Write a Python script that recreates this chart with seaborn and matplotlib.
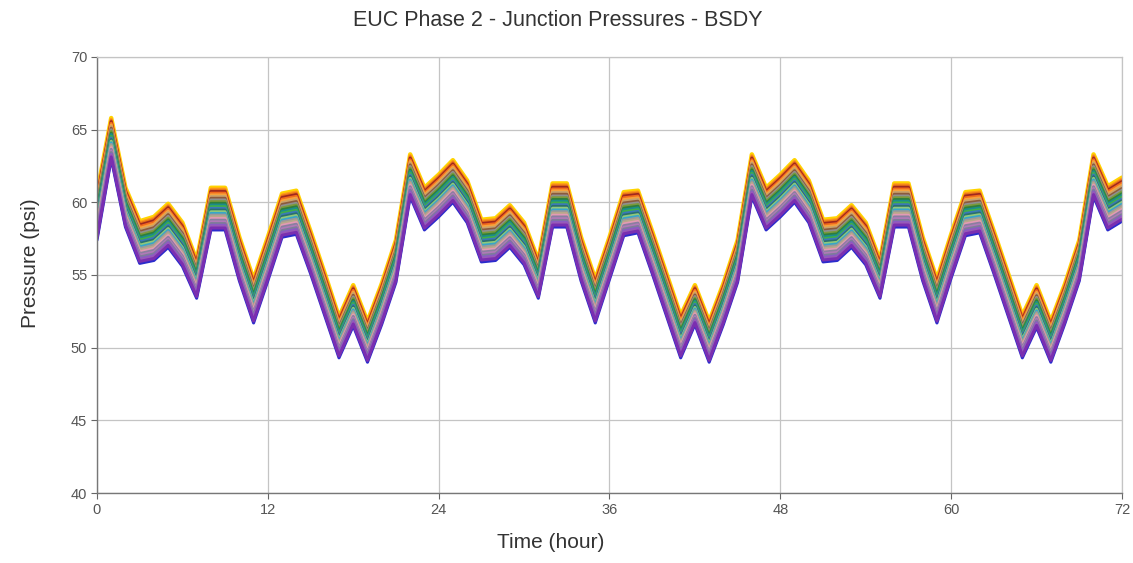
import numpy as np
import pandas as pd
import matplotlib
matplotlib.use("Agg")
import matplotlib.pyplot as plt
import seaborn as sns

# hourly time steps of the extended period run
hours = list(range(0, 73))

# highest-pressure junction (top edge of the band), psi
p_max = [60.6, 65.8, 61.0, 58.7, 59.0, 59.9, 58.6, 56.0, 61.0, 61.0,
         57.6, 54.7, 57.6, 60.6, 60.8, 58.0, 55.1, 52.1, 54.3, 51.8,
         54.4, 57.4, 63.3, 61.0, 61.9, 62.9, 61.5, 58.8, 58.9, 59.8,
         58.6, 56.0, 61.3, 61.3, 57.6, 54.7, 57.6, 60.7, 60.8, 58.0,
         55.1, 52.2, 54.3, 51.8, 54.4, 57.4, 63.3, 61.0, 61.9, 62.9,
         61.5, 58.8, 58.9, 59.8, 58.6, 56.0, 61.3, 61.3, 57.6, 54.7,
         57.8, 60.7, 60.8, 58.0, 55.1, 52.2, 54.3, 51.8, 54.4, 57.4,
         63.3, 61.1, 61.7]

# lowest-pressure junction (bottom edge of the band), psi
p_min = [57.4, 63.0, 58.3, 55.8, 56.0, 56.9, 55.6, 53.4, 58.1, 58.1,
         54.6, 51.7, 54.6, 57.6, 57.8, 55.1, 52.2, 49.3, 51.5, 49.0,
         51.6, 54.5, 60.4, 58.1, 59.0, 60.0, 58.6, 55.9, 56.0, 56.9,
         55.7, 53.4, 58.3, 58.3, 54.6, 51.7, 54.7, 57.7, 57.9, 55.1,
         52.2, 49.3, 51.6, 49.0, 51.6, 54.5, 60.4, 58.1, 59.0, 60.0,
         58.6, 55.9, 56.0, 56.9, 55.7, 53.4, 58.3, 58.3, 54.6, 51.7,
         54.8, 57.7, 57.9, 55.1, 52.2, 49.3, 51.4, 49.0, 51.7, 54.6,
         60.4, 58.1, 58.7]

# where each junction sits inside the band (0 = top, 1 = bottom) and its colour,
# listed in drawing order
band_pos = [0.0, 0.03, 0.06, 0.09, 0.13, 0.17, 0.21, 0.25, 0.29, 0.33,
            0.37, 0.41, 0.45, 0.49, 0.53, 0.57, 0.61, 0.65, 0.69, 0.73,
            0.77, 0.81, 0.85, 0.89, 0.925, 1.0, 0.955]
line_colors = ['#ffd400', '#ff9a1a', '#e8731a', '#a0281e', '#f26b1d',
               '#f7a23b', '#c9a26b', '#8c5a3c', '#8f8f8f', '#7a9a3a',
               '#2f7f3a', '#1b8c8c', '#3fae49', '#3b78b8', '#2a6f6f',
               '#8fc97a', '#37a6c8', '#9a9a9a', '#b8a88a', '#e39ab5',
               '#8a7fa0', '#b07ab8', '#7d7d99', '#8a5cc4', '#9b59b6',
               '#2b2bcc', '#7a2fb0']

top = np.array(p_max)
bot = np.array(p_min)
rows = []
for j, pos in enumerate(band_pos):
    pres = top - pos * (top - bot)
    for h, p in zip(hours, pres):
        rows.append({"junction": f"J{j + 1}", "hour": h, "pressure": p})
df = pd.DataFrame(rows)

sns.set_theme(style="white")
plt.rcParams['font.family'] = ['Liberation Sans', 'DejaVu Sans']

fig = plt.figure(figsize=(11.33, 5.63), dpi=100)
ax = fig.add_axes([0.0856, 0.1243, 0.9047, 0.7745])

ax.grid(True, color='#c4c4c4', linewidth=0.9, linestyle='-', zorder=0)
ax.set_axisbelow(True)

sns.lineplot(data=df, x="hour", y="pressure", hue="junction",
             palette=line_colors, linewidth=2.2, legend=False, ax=ax,
             estimator=None, sort=False)
lines = ax.get_lines()
lines[0].set_linewidth(3.2)
lines[-2].set_linewidth(2.2)
lines[-1].set_linewidth(2.2)

ax.set_xlim(0, 72)
ax.set_ylim(40, 70)
ax.set_xticks(range(0, 73, 12))
ax.set_yticks(range(40, 71, 5))
ax.tick_params(axis='both', direction='out', length=4, width=0.8,
               color='#666666', labelcolor='#555555', labelsize=10.5, pad=3,
               bottom=True, left=True)
ax.set_xlabel("")
ax.set_ylabel("")

for side in ['left', 'bottom']:
    ax.spines[side].set_color('#777777')
    ax.spines[side].set_linewidth(1.0)
for side in ['top', 'right']:
    ax.spines[side].set_color('#c4c4c4')
    ax.spines[side].set_linewidth(0.9)

fig.suptitle("EUC Phase 2 - Junction Pressures - BSDY", x=0.492, y=0.982,
             fontsize=15.5, color='#333333', va='top')
fig.text(0.486, 0.02, "Time (hour)", ha='center', va='bottom',
         fontsize=15, color='#333333')
fig.text(0.027, 0.532, "Pressure (psi)", ha='center', va='center',
         rotation=90, fontsize=15, color='#333333')

fig.savefig("out.png", dpi=100)
